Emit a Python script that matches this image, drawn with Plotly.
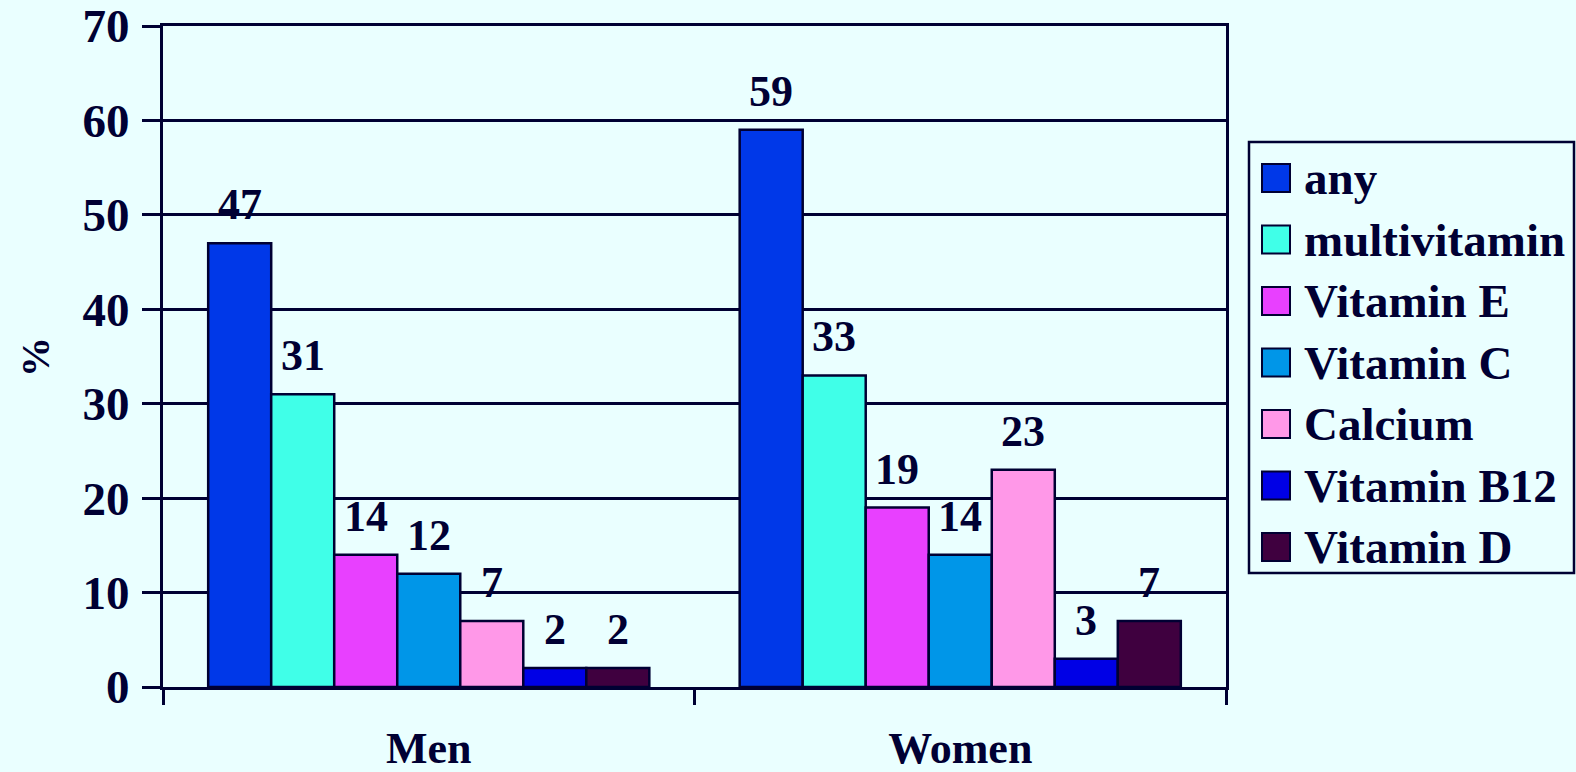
import plotly.graph_objects as go

# Supplement use by sex (%)
groups = ["Men", "Women"]
series = ["any", "multivitamin", "Vitamin E", "Vitamin C", "Calcium", "Vitamin B12", "Vitamin D"]
men = [47, 31, 14, 12, 7, 2, 2]
women = [59, 33, 19, 14, 23, 3, 7]
colors = ["#0038E8", "#40FFE8", "#E840FF", "#0096E8", "#FF98E8", "#0000E6", "#3F003F"]
y_ticks = [0, 10, 20, 30, 40, 50, 60, 70]

INK = "#000033"
BG = "#EAFFFF"
FONT = "Liberation Serif"
FS = 44

W, H = 1576, 772
L, R, T, B = 163, 1226, 26, 687  # plot area in pixels
BARGAP = 0.17


def px_x(p):
    return (p - L) / (R - L)


def px_y(p):
    return (B - p) / (B - T)


fig = go.Figure()
values = [men, women]
for i, name in enumerate(series):
    fig.add_trace(go.Bar(
        name=name,
        x=groups,
        y=[men[i], women[i]],
        marker=dict(color=colors[i], line=dict(color=INK, width=2.5)),
        showlegend=False,
    ))

# value labels above each bar
n = len(series)
slot = (1 - BARGAP) / n
annotations = []
for gi, vals in enumerate(values):
    for i, v in enumerate(vals):
        annotations.append(dict(
            x=gi + (i - (n - 1) / 2) * slot, y=v, xref="x", yref="y",
            text=f"<b>{v}</b>", showarrow=False, yanchor="bottom", yshift=12,
            font=dict(family=FONT, size=FS, color=INK),
        ))

# y-axis title
annotations.append(dict(
    x=px_x(35), y=px_y(357), xref="paper", yref="paper", text="<b>%</b>",
    xanchor="center", yanchor="middle",
    textangle=-90, showarrow=False, font=dict(family=FONT, size=40, color=INK),
))

# legend box with swatches
shapes = [dict(type="rect", xref="paper", yref="paper",
               x0=px_x(1249), x1=px_x(1574), y0=px_y(573), y1=px_y(142),
               line=dict(color=INK, width=2.5), fillcolor=BG, layer="above")]
for i, name in enumerate(series):
    cy = 178 + i * 61.5
    shapes.append(dict(type="rect", xref="paper", yref="paper",
                       x0=px_x(1262), x1=px_x(1290), y0=px_y(cy + 14), y1=px_y(cy - 14),
                       line=dict(color=INK, width=2), fillcolor=colors[i], layer="above"))
    annotations.append(dict(
        x=px_x(1302), y=px_y(cy), xref="paper", yref="paper", text=f"<b>{name}</b>",
        xanchor="left", yanchor="middle", showarrow=False,
        font=dict(family=FONT, size=47, color=INK),
    ))

fig.update_layout(
    width=W, height=H,
    margin=dict(l=L, r=W - R, t=T, b=H - B, pad=0, autoexpand=False),
    paper_bgcolor=BG, plot_bgcolor=BG,
    barmode="group", bargap=BARGAP, bargroupgap=0,
    font=dict(family=FONT, size=FS, color=INK),
    annotations=annotations, shapes=shapes,
    showlegend=False,
)
fig.update_xaxes(
    type="category", tickson="boundaries", ticks="outside", ticklen=15, tickwidth=3,
    tickcolor=INK, showline=True, linecolor=INK, linewidth=3, mirror=True,
    showgrid=False, ticklabelstandoff=20, automargin=False,
    tickfont=dict(family=FONT, size=FS, color=INK, weight="bold"),
)
fig.update_yaxes(
    range=[0, 70], tickvals=y_ticks, ticks="outside", ticklen=18, tickwidth=2.5,
    tickcolor=INK, showline=True, linecolor=INK, linewidth=3, mirror=True,
    showgrid=True, gridcolor=INK, gridwidth=2.5, zeroline=False,
    ticklabelstandoff=3, automargin=False,
    tickfont=dict(family=FONT, size=47, color=INK, weight="bold"),
)

fig.write_html("out.html")
